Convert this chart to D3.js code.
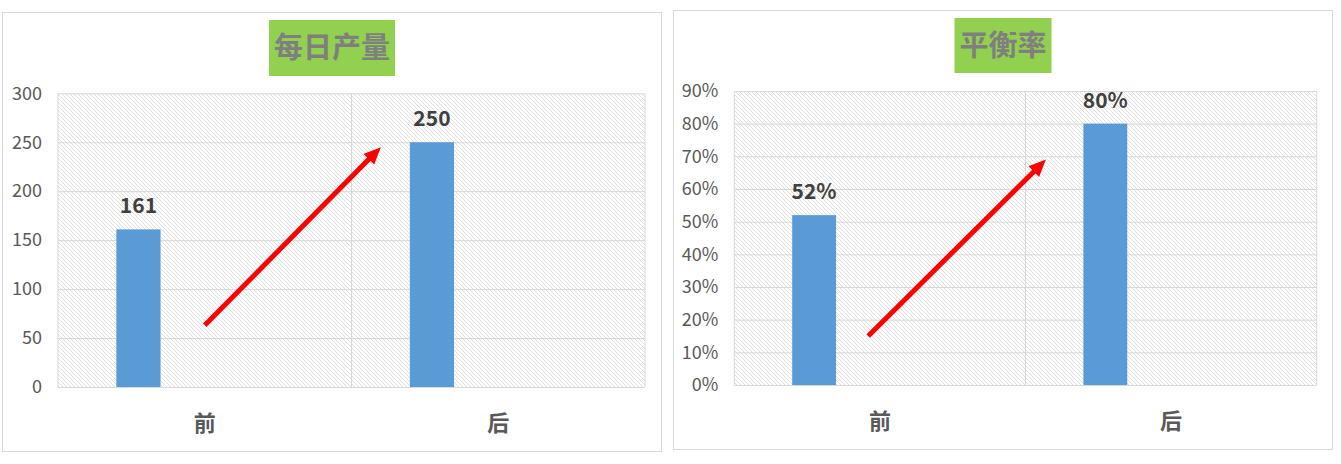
<!DOCTYPE html>
<html>
<head>
<meta charset="utf-8">
<script src="https://cdn.jsdelivr.net/npm/d3@7"></script>
<style>
  body { margin: 0; background: #fff; }
  text { font-family: "Noto Sans CJK SC", "Microsoft YaHei", sans-serif; }
</style>
</head>
<body>
<svg id="charts" width="1342" height="464"></svg>
<script>
// data
const categories = ['前', '后'];
const slots = ['s1', 's2', 's3', 's4'];   // excel cluster has 4 slots, only the first is filled

const outputTitle = '每日产量';
const outputValues = [161, 250];
const outputTicks = [0, 50, 100, 150, 200, 250, 300];
const outputArrow = [63, 245];             // start / end value of the red arrow

const balanceTitle = '平衡率';
const balanceValues = [0.52, 0.80];
const balanceTicks = [0, 0.1, 0.2, 0.3, 0.4, 0.5, 0.6, 0.7, 0.8, 0.9];
const balanceArrow = [0.15, 0.69];

const svg = d3.select('#charts');

// hatched plot background
const defs = svg.append('defs');
defs.append('pattern')
    .attr('id', 'hatch')
    .attr('patternUnits', 'userSpaceOnUse')
    .attr('width', 4)
    .attr('height', 4)
  .call(p => p.append('rect').attr('width', 4).attr('height', 4).attr('fill', '#fff'))
  .call(p => p.append('path')
    .attr('d', 'M-1,-1 L5,5 M-1,3 L1,5 M3,-1 L5,1')
    .attr('stroke', '#dddddd')
    .attr('stroke-width', 0.9));

// extra border peeking in at the right edge
svg.append('line')
    .attr('x1', 1341.5).attr('x2', 1341.5)
    .attr('y1', 0).attr('y2', 464)
    .attr('stroke', '#d9d9d9');

drawChart({
    panel: { x: 2.5, y: 12.5, w: 659, h: 439 },
    plot: { left: 58, right: 645, top: 93.3, bottom: 387 },
    titleBox: { top: 20, height: 56 },
    labelY: 423,
    title: outputTitle,
    values: outputValues,
    ticks: outputTicks,
    fmt: d3.format('d'),
    arrow: outputArrow,
    arrowPos: [0.5, 0.1]
});

drawChart({
    panel: { x: 673.5, y: 10.5, w: 659, h: 439 },
    plot: { left: 734.3, right: 1316.7, top: 91, bottom: 385 },
    titleBox: { top: 18, height: 55 },
    labelY: 421,
    title: balanceTitle,
    values: balanceValues,
    ticks: balanceTicks,
    fmt: d3.format('.0%'),
    arrow: balanceArrow,
    arrowPos: [0.46, 0.07]
});

function drawChart(cfg) {
    const p = cfg.plot;
    const g = svg.append('g');

    g.append('rect')
        .attr('x', cfg.panel.x).attr('y', cfg.panel.y)
        .attr('width', cfg.panel.w).attr('height', cfg.panel.h)
        .attr('fill', '#fff')
        .attr('stroke', '#d9d9d9');

    const x0 = d3.scaleBand()
        .domain(categories)
        .range([p.left, p.right]);

    const x1 = d3.scaleBand()
        .domain(slots)
        .range([0, x0.bandwidth()])
        .paddingInner(0)
        .paddingOuter(1.32);

    const y = d3.scaleLinear()
        .domain([0, d3.max(cfg.ticks)])
        .range([p.bottom, p.top]);

    // plot area
    g.append('rect')
        .attr('x', p.left).attr('y', p.top)
        .attr('width', p.right - p.left).attr('height', p.bottom - p.top)
        .attr('fill', 'url(#hatch)');

    // horizontal grid + tick labels
    g.append('g')
        .attr('transform', `translate(${p.left},0)`)
        .call(d3.axisLeft(y)
            .tickValues(cfg.ticks)
            .tickFormat(cfg.fmt)
            .tickSize(-(p.right - p.left))
            .tickPadding(16))
        .call(a => a.select('.domain').remove())
        .call(a => a.selectAll('.tick line').attr('stroke', '#d9d9d9'))
        .call(a => a.selectAll('.tick text')
            .attr('fill', '#595959')
            .style('font-size', '18px')
            .style('font-family', '"Noto Sans CJK SC", sans-serif'));

    // vertical grid at category edges
    const edges = categories.map(c => x0(c)).concat([p.right]);
    g.append('g')
        .selectAll('line')
        .data(edges)
        .join('line')
        .attr('x1', d => d).attr('x2', d => d)
        .attr('y1', p.top).attr('y2', p.bottom)
        .attr('stroke', '#d9d9d9');

    // bars
    g.append('g')
        .selectAll('rect')
        .data(cfg.values)
        .join('rect')
        .attr('x', (d, i) => x0(categories[i]) + x1('s1'))
        .attr('y', d => y(d))
        .attr('width', x1.bandwidth())
        .attr('height', d => y(0) - y(d))
        .attr('fill', '#5B9BD5');

    // value labels
    g.append('g')
        .selectAll('text')
        .data(cfg.values)
        .join('text')
        .attr('x', (d, i) => x0(categories[i]) + x1('s1') + x1.bandwidth() / 2)
        .attr('y', d => y(d) - 16)
        .attr('text-anchor', 'middle')
        .attr('fill', '#404040')
        .style('font-size', '21px')
        .style('font-weight', 'bold')
        .text(d => cfg.fmt(d));

    // category labels
    g.append('g')
        .selectAll('text')
        .data(categories)
        .join('text')
        .attr('x', d => x0(d) + x0.bandwidth() / 2)
        .attr('y', cfg.labelY)
        .attr('dy', '0.35em')
        .attr('text-anchor', 'middle')
        .attr('fill', '#595959')
        .style('font-size', '22px')
        .style('font-weight', 'bold')
        .text(d => d);

    // title with green box
    const cx = cfg.panel.x + cfg.panel.w / 2;
    const box = g.append('rect').attr('fill', '#92D050');
    const title = g.append('text')
        .attr('x', cx)
        .attr('y', cfg.titleBox.top + cfg.titleBox.height / 2)
        .attr('dy', '0.36em')
        .attr('text-anchor', 'middle')
        .attr('fill', '#7F7F7F')
        .style('font-size', '29px')
        .style('font-weight', 'bold')
        .text(cfg.title);
    const tw = title.node().getComputedTextLength();
    box.attr('x', cx - tw / 2 - 5)
        .attr('y', cfg.titleBox.top)
        .attr('width', tw + 10)
        .attr('height', cfg.titleBox.height);

    // red arrow
    const ax1 = x0(categories[0]) + x0.bandwidth() * cfg.arrowPos[0];
    const ay1 = y(cfg.arrow[0]);
    const ax2 = x0(categories[1]) + x0.bandwidth() * cfg.arrowPos[1];
    const ay2 = y(cfg.arrow[1]);
    const len = Math.hypot(ax2 - ax1, ay2 - ay1);
    const ux = (ax2 - ax1) / len, uy = (ay2 - ay1) / len;
    const head = 17, half = 7.5;
    const bx = ax2 - ux * head, by = ay2 - uy * head;

    g.append('line')
        .attr('x1', ax1).attr('y1', ay1)
        .attr('x2', bx + ux * 2).attr('y2', by + uy * 2)
        .attr('stroke', '#FF0000')
        .attr('stroke-width', 5);

    g.append('path')
        .attr('d', `M${ax2},${ay2} L${bx - uy * half},${by + ux * half} L${bx + uy * half},${by - ux * half} Z`)
        .attr('fill', '#FF0000');
}
</script>
</body>
</html>
